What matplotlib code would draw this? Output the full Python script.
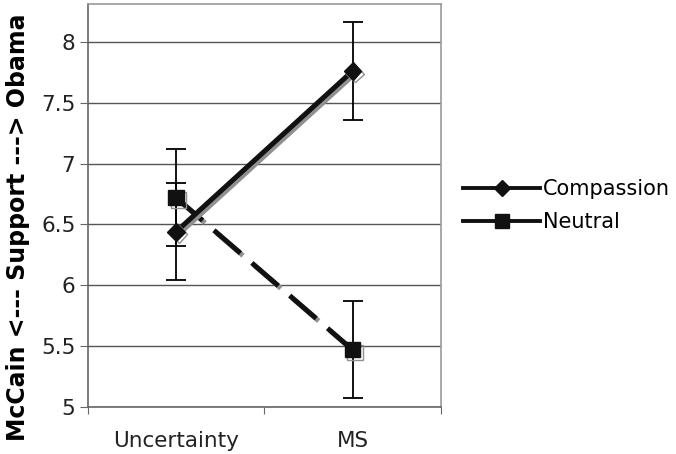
import matplotlib.pyplot as plt
import matplotlib.patheffects as pe
from matplotlib.lines import Line2D

conditions = ["Uncertainty", "MS"]
compassion = [6.44, 7.76]
neutral = [6.72, 5.47]
compassion_err = [0.40, 0.40]
neutral_err = [0.40, 0.40]

x = [0.5, 1.5]

fig = plt.figure(figsize=(6.76, 4.54), dpi=100)
ax = fig.add_axes([0.130, 0.1035, 0.522, 0.8875])

shadow = [pe.SimpleLineShadow(offset=(1.8, -1.8), shadow_color="#909090", alpha=1), pe.Normal()]

ax.errorbar(x, compassion, yerr=compassion_err, fmt="none", ecolor="black",
            elinewidth=1.3, capsize=7, capthick=1.3, zorder=3)
ax.errorbar(x, neutral, yerr=neutral_err, fmt="none", ecolor="black",
            elinewidth=1.3, capsize=7, capthick=1.3, zorder=3)

ax.plot(x, neutral, color="#111111", lw=3.6, dashes=(7, 3), marker="s", ms=11,
        path_effects=shadow, zorder=4)
ax.plot(x, compassion, color="#111111", lw=3.6, marker="D", ms=9,
        path_effects=shadow, zorder=5)

ax.set_xlim(0, 2)
ax.set_ylim(5, 8.31)
ax.set_xticks([0, 1, 2])
ax.set_xticklabels([])
ax.set_xticks(x, minor=True)
ax.set_xticklabels(conditions, minor=True, fontsize=15.5, color="#222222")
ax.tick_params(axis="x", which="minor", length=0, pad=17)
ax.tick_params(axis="x", which="major", length=5, color="#666666")
ax.set_yticks([5, 5.5, 6, 6.5, 7, 7.5, 8])
ax.set_yticklabels(["5", "5.5", "6", "6.5", "7", "7.5", "8"], fontsize=15.5, color="#222222")
ax.tick_params(axis="y", length=6, color="#666666", pad=3)
ax.yaxis.grid(True, color="#555555", lw=1.0)
ax.set_axisbelow(True)

for s in ["top", "right"]:
    ax.spines[s].set_color("#999999")
    ax.spines[s].set_linewidth(1.2)
for s in ["left", "bottom"]:
    ax.spines[s].set_color("#666666")
    ax.spines[s].set_linewidth(1.2)

ax.set_ylabel("McCain <--- Support ---> Obama", fontsize=17, fontweight="bold")
ax.yaxis.set_label_coords(-0.165, 0.445)

handles = [
    Line2D([], [], color="#111111", lw=2.8, marker="D", ms=8),
    Line2D([], [], color="#111111", lw=2.8, marker="s", ms=10),
]
fig.legend(handles, ["Compassion", "Neutral"], loc="center left",
           bbox_to_anchor=(0.670, 0.547), frameon=False, fontsize=15,
           handlelength=3.7, handletextpad=0.1, labelspacing=0.62, borderpad=0)

fig.savefig("out.png", dpi=100)
